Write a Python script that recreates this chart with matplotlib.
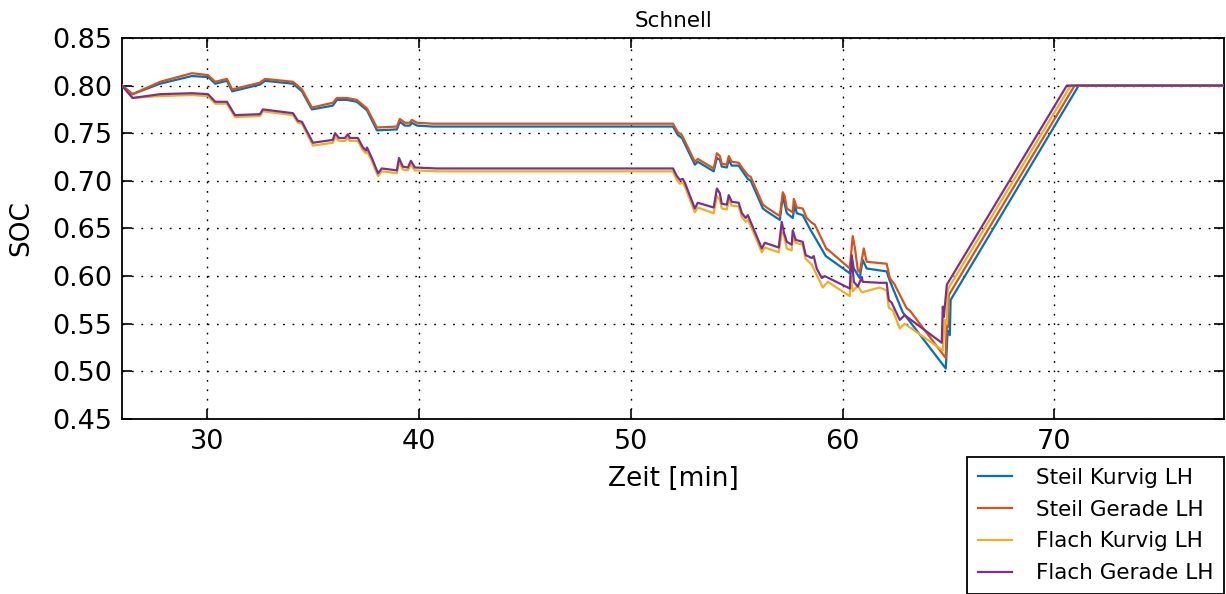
import matplotlib

matplotlib.use("Agg")
import matplotlib.pyplot as plt
import numpy as np

BLUE = "#0072BD"
ORANGE = "#D95319"
YELLOW = "#EDB120"
PURPLE = "#7E2F8E"

# (time [min], SOC)
steil_kurvig = [
    (26.0, 0.800), (26.5, 0.791), (27.8, 0.802), (29.3, 0.810), (30.06, 0.809), (30.4, 0.802),
    (30.95, 0.805), (31.2, 0.794), (32.5, 0.801), (32.75, 0.805), (34.07, 0.802), (34.49, 0.794),
    (34.96, 0.775), (35.95, 0.779), (36.14, 0.785), (36.61, 0.785), (37.08, 0.783), (37.56, 0.774),
    (38.03, 0.753), (38.97, 0.754), (39.11, 0.762), (39.35, 0.758), (39.58, 0.758), (39.68, 0.761),
    (39.92, 0.758), (40.67, 0.757), (52.0, 0.757), (52.23, 0.748), (52.42, 0.745), (53.03, 0.717),
    (53.17, 0.720), (53.92, 0.710), (54.07, 0.724), (54.21, 0.722), (54.30, 0.715), (54.54, 0.714),
    (54.63, 0.722), (54.77, 0.716), (55.10, 0.716), (55.25, 0.711), (55.53, 0.702), (55.67, 0.700),
    (56.24, 0.671), (56.42, 0.668), (57.04, 0.659), (57.18, 0.684), (57.37, 0.666), (57.65, 0.661),
    (57.75, 0.675), (57.84, 0.666), (58.12, 0.664), (58.31, 0.656), (58.45, 0.650), (59.21, 0.621),
    (60.34, 0.603), (60.43, 0.621), (60.53, 0.608), (60.81, 0.598), (60.95, 0.617), (61.14, 0.608),
    (61.75, 0.606), (62.08, 0.605), (62.23, 0.595), (62.84, 0.562), (64.87, 0.503), (64.96, 0.543),
    (65.06, 0.538), (65.10, 0.575), (71.14, 0.800), (78.0, 0.800),
]
steil_gerade = [
    (26.0, 0.800), (26.5, 0.791), (27.8, 0.804), (29.3, 0.813), (30.06, 0.811), (30.4, 0.804),
    (30.95, 0.807), (31.2, 0.796), (32.5, 0.803), (32.75, 0.807), (34.07, 0.804), (34.49, 0.796),
    (34.96, 0.777), (35.95, 0.782), (36.14, 0.787), (36.61, 0.787), (37.08, 0.785), (37.56, 0.776),
    (38.03, 0.756), (38.97, 0.757), (39.11, 0.765), (39.35, 0.761), (39.58, 0.761), (39.68, 0.764),
    (39.92, 0.761), (40.67, 0.760), (52.0, 0.760), (52.23, 0.751), (52.42, 0.748), (53.03, 0.720),
    (53.17, 0.723), (53.92, 0.713), (54.07, 0.729), (54.21, 0.726), (54.30, 0.718), (54.54, 0.717),
    (54.63, 0.726), (54.77, 0.720), (55.10, 0.719), (55.25, 0.714), (55.53, 0.706), (55.67, 0.704),
    (56.24, 0.675), (56.42, 0.672), (57.04, 0.663), (57.18, 0.688), (57.27, 0.684), (57.37, 0.671),
    (57.65, 0.667), (57.70, 0.681), (57.84, 0.672), (58.12, 0.671), (58.31, 0.661), (58.55, 0.656),
    (58.69, 0.654), (59.25, 0.628), (59.30, 0.628), (60.34, 0.608), (60.48, 0.642), (60.58, 0.630),
    (60.72, 0.606), (60.81, 0.604), (61.00, 0.629), (61.14, 0.615), (62.08, 0.613), (62.23, 0.598),
    (62.46, 0.591), (63.03, 0.566), (63.17, 0.564), (64.87, 0.514), (64.92, 0.554), (64.96, 0.546),
    (65.01, 0.580), (70.95, 0.800), (78.0, 0.800),
]
flach_kurvig = [
    (26.0, 0.800), (26.5, 0.787), (27.8, 0.789), (29.3, 0.790), (30.06, 0.789), (30.4, 0.781),
    (30.95, 0.781), (31.33, 0.767), (32.51, 0.768), (32.65, 0.773), (34.07, 0.769), (34.30, 0.761),
    (34.49, 0.760), (35.01, 0.737), (35.95, 0.740), (36.05, 0.746), (36.24, 0.742), (36.52, 0.742),
    (36.66, 0.745), (36.75, 0.742), (37.13, 0.742), (37.37, 0.732), (37.51, 0.729), (37.56, 0.731),
    (37.79, 0.721), (38.08, 0.705), (38.26, 0.710), (38.97, 0.708), (39.07, 0.720), (39.25, 0.712),
    (39.49, 0.711), (39.63, 0.717), (39.82, 0.711), (40.86, 0.710), (52.0, 0.710), (52.18, 0.701),
    (52.32, 0.697), (52.46, 0.698), (52.56, 0.694), (53.03, 0.667), (53.17, 0.672), (53.92, 0.666),
    (54.07, 0.684), (54.21, 0.680), (54.30, 0.671), (54.54, 0.670), (54.63, 0.681), (54.77, 0.674),
    (55.10, 0.673), (55.25, 0.662), (55.43, 0.657), (55.53, 0.659), (55.72, 0.650), (56.19, 0.625),
    (56.33, 0.630), (56.99, 0.625), (57.13, 0.646), (57.23, 0.643), (57.37, 0.629), (57.60, 0.627),
    (57.65, 0.640), (57.79, 0.635), (58.12, 0.633), (58.26, 0.618), (58.55, 0.612), (59.07, 0.588),
    (59.30, 0.594), (60.34, 0.579), (60.39, 0.599), (60.48, 0.584), (60.72, 0.590), (60.91, 0.583),
    (61.75, 0.588), (62.08, 0.585), (62.18, 0.567), (62.37, 0.564), (62.70, 0.545), (62.93, 0.550),
    (64.73, 0.522), (64.82, 0.554), (64.87, 0.549), (64.92, 0.550), (64.96, 0.586), (70.76, 0.800),
    (78.0, 0.800),
]
flach_gerade = [
    (26.0, 0.800), (26.5, 0.787), (27.8, 0.791), (29.3, 0.792), (30.06, 0.791), (30.4, 0.783),
    (30.95, 0.783), (31.33, 0.769), (32.51, 0.770), (32.65, 0.775), (34.07, 0.771), (34.30, 0.763),
    (34.49, 0.762), (35.01, 0.740), (35.95, 0.743), (36.05, 0.750), (36.24, 0.745), (36.52, 0.745),
    (36.66, 0.749), (36.75, 0.745), (37.13, 0.745), (37.37, 0.735), (37.51, 0.732), (37.56, 0.735),
    (37.79, 0.724), (38.08, 0.708), (38.26, 0.713), (38.97, 0.711), (39.07, 0.724), (39.25, 0.715),
    (39.49, 0.714), (39.63, 0.721), (39.82, 0.714), (40.86, 0.713), (52.0, 0.713), (52.18, 0.705),
    (52.32, 0.701), (52.46, 0.702), (52.56, 0.698), (53.03, 0.671), (53.17, 0.677), (53.92, 0.672),
    (54.07, 0.692), (54.21, 0.687), (54.30, 0.676), (54.54, 0.675), (54.63, 0.685), (54.77, 0.678),
    (55.10, 0.677), (55.25, 0.666), (55.43, 0.661), (55.53, 0.664), (55.72, 0.654), (56.19, 0.629),
    (56.33, 0.635), (56.99, 0.630), (57.13, 0.657), (57.23, 0.646), (57.37, 0.636), (57.60, 0.633),
    (57.65, 0.648), (57.79, 0.638), (58.12, 0.636), (58.26, 0.622), (58.55, 0.619), (58.64, 0.621),
    (58.78, 0.608), (59.02, 0.598), (59.16, 0.600), (60.34, 0.587), (60.43, 0.622), (60.53, 0.594),
    (60.72, 0.589), (60.91, 0.599), (60.95, 0.594), (61.75, 0.593), (62.08, 0.593), (62.18, 0.575),
    (62.32, 0.572), (62.70, 0.554), (62.93, 0.559), (64.68, 0.530), (64.73, 0.568), (64.78, 0.557),
    (64.92, 0.591), (70.58, 0.800), (78.0, 0.800),
]

SERIES = [
    ("Steil Kurvig LH", steil_kurvig, BLUE),
    ("Steil Gerade LH", steil_gerade, ORANGE),
    ("Flach Kurvig LH", flach_kurvig, YELLOW),
    ("Flach Gerade LH", flach_gerade, PURPLE),
]

X_TICKS = [30, 40, 50, 60, 70]
Y_TICKS = [0.45, 0.50, 0.55, 0.60, 0.65, 0.70, 0.75, 0.80, 0.85]


def main(path):
    fig = plt.figure(figsize=(12.26, 5.94), dpi=100, facecolor="white")
    ax = fig.add_axes([0.0995, 0.2946, 0.8989, 0.6415])

    for label, pts, colour in SERIES:
        arr = np.array(pts)
        ax.plot(arr[:, 0], arr[:, 1], color=colour, lw=1.6, label=label, zorder=3)

    ax.set_xlim(26, 78)
    ax.set_ylim(0.45, 0.85)
    ax.set_xticks(X_TICKS)
    ax.set_yticks(Y_TICKS)
    ax.set_yticklabels([f"{v:.2f}" for v in Y_TICKS])
    ax.grid(True, color="black", linestyle=(0, (1.3, 5.5)), lw=1.0, zorder=1)
    ax.tick_params(direction="in", top=True, right=True, length=7, width=1.2, labelsize=19.5, pad=7)
    for sp in ax.spines.values():
        sp.set_linewidth(1.3)

    ax.set_title("Schnell", fontsize=15.5, pad=8)
    ax.set_xlabel("Zeit [min]", fontsize=19, labelpad=8)
    ax.set_ylabel("SOC", fontsize=19, labelpad=13)

    leg = fig.legend(
        loc="upper right", bbox_to_anchor=(0.9984, 0.2306), bbox_transform=fig.transFigure,
        borderaxespad=0, fontsize=15.5, handlelength=1.6, handletextpad=1.1, labelspacing=0.55,
        borderpad=0.5, fancybox=False, framealpha=1,
    )
    leg.get_frame().set_edgecolor("black")
    leg.get_frame().set_linewidth(1.3)

    fig.savefig(path, dpi=100)
    plt.close(fig)


if __name__ == "__main__":
    main("out.png")
